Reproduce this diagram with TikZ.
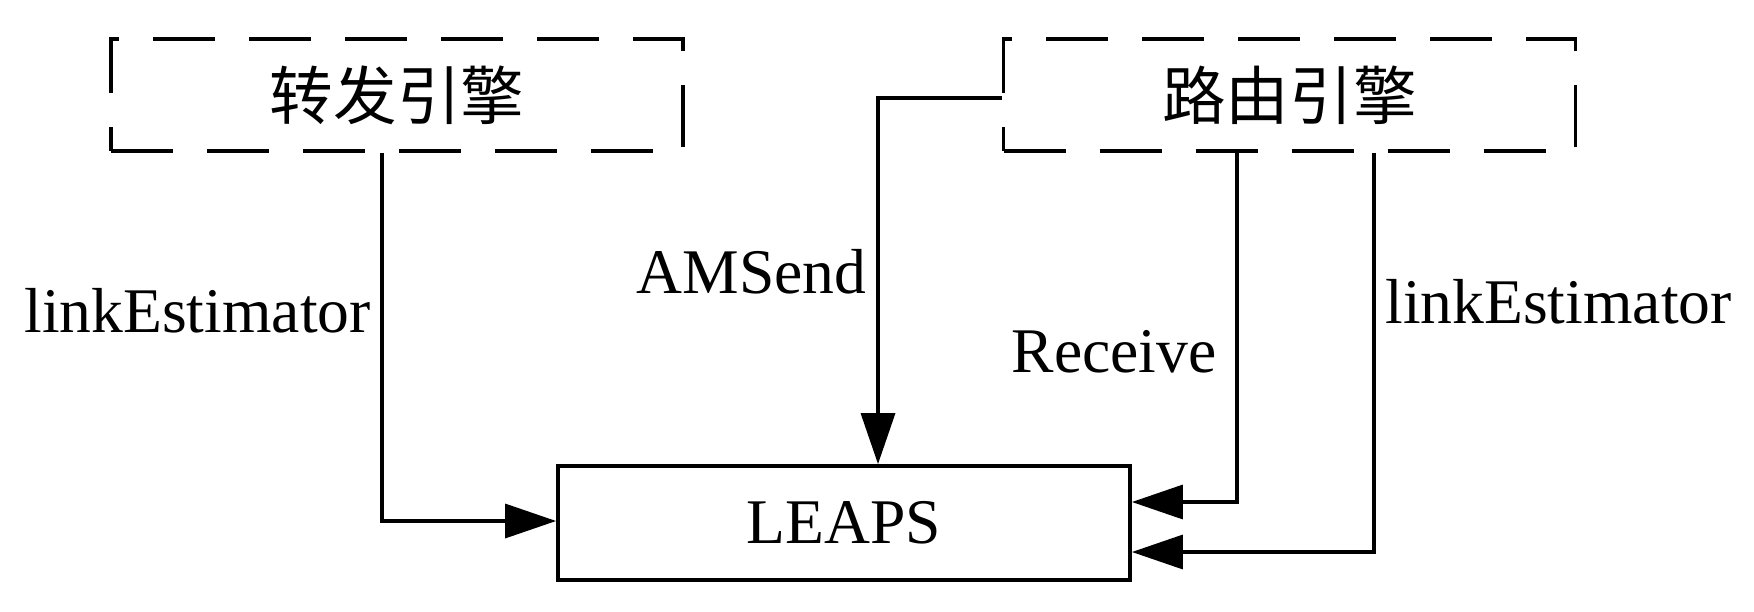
\documentclass[tikz,border=0pt]{standalone}
\usepackage{fontspec}
\setmainfont{Liberation Serif}
\newfontfamily\cjk{Noto Sans CJK SC}
\usetikzlibrary{arrows.meta,calc}
\begin{document}
\begin{tikzpicture}[x=0.5pt,y=-0.5pt,
  every node/.style={font=\fontsize{31.8pt}{38pt}\selectfont},
  engbox/.style={draw,line width=1.9pt,dash pattern=on 31pt off 17pt,dash phase=0pt,
    minimum width=286pt,minimum height=56pt,inner sep=0pt},
  mainbox/.style={draw,line width=1.9pt,minimum width=286pt,minimum height=57pt,inner sep=0pt},
  arr/.style={line width=1.7pt,-{Triangle[length=25.5pt,width=17pt]}},
  lbl/.style={inner sep=0pt}]
\useasboundingbox (0,0) rectangle (1754,611);
\node[engbox] (lf) at (397,95) {\cjk 转发引擎};
\node[engbox] (rt) at (1289.5,95) {\cjk 路由引擎};
\node[mainbox] (leaps) at (844,523) {LEAPS};
\coordinate (c1) at (382,521);
\coordinate (c2) at (878,98);
\coordinate (c3) at (1237,502);
\coordinate (c4) at (1374,552);
\draw[arr] (lf.south -| c1) |- (leaps.west |- c1);
\draw[arr] (rt.west |- c2) -| (leaps.north -| c2);
\draw[arr] (rt.south -| c3) |- (leaps.east |- c3);
\draw[arr] (rt.south -| c4) |- (leaps.east |- c4);
\node[lbl,anchor=east] (l1) at (371,311) {linkEstimator};
\node[lbl,anchor=east] (l2) at (867,272) {AMSend};
\node[lbl,anchor=east] (l3) at (1217,352) {Receive};
\node[lbl,anchor=west] (l4) at (1385,302) {linkEstimator};
\end{tikzpicture}
\end{document}
